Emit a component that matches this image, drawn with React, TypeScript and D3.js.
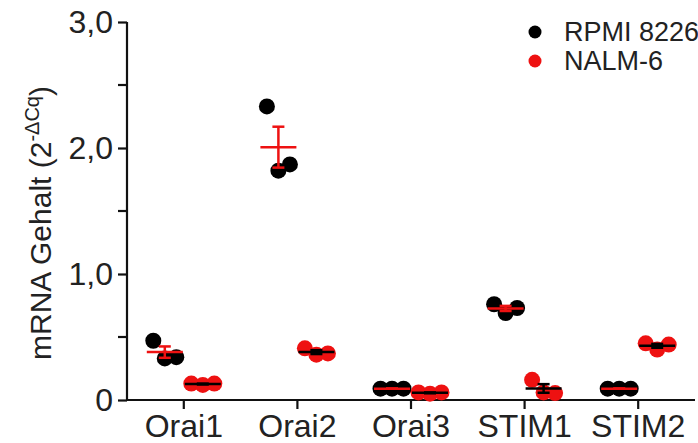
import { useEffect, useRef } from "react";
import * as d3 from "d3";

const categories = ["Orai1", "Orai2", "Orai3", "STIM1", "STIM2"];
const seriesNames = ["RPMI 8226", "NALM-6"];
// three replicates per category, left-to-right as plotted
const rpmiValues = [
  [0.47, 0.33, 0.34],
  [2.33, 1.82, 1.87],
  [0.09, 0.09, 0.09],
  [0.76, 0.69, 0.73],
  [0.09, 0.09, 0.09],
];
const nalmValues = [
  [0.13, 0.12, 0.13],
  [0.41, 0.36, 0.37],
  [0.06, 0.05, 0.06],
  [0.16, 0.06, 0.055],
  [0.45, 0.4, 0.44],
];
const yTicks = [0, 1, 2, 3];
const yMinorTicks = [0.5, 1.5, 2.5];

export default function App() {
  const ref = useRef<SVGSVGElement>(null);

  useEffect(() => {
    const width = 698;
    const height = 443;
    const margin = { top: 22, right: 3, bottom: 43, left: 127 };
    const red = "#ee1111";
    const font = "'Liberation Sans', Arial, sans-serif";

    const svg = d3.select(ref.current);
    svg.selectAll("*").remove();
    svg.style("font-family", font);

    const x = d3.scaleBand().domain(categories).range([margin.left, width - margin.right]).padding(0);
    const y = d3.scaleLinear().domain([0, 3]).range([height - margin.bottom, margin.top]);

    // axes
    const yAxis = svg.append("g")
      .attr("transform", `translate(${margin.left},0)`)
      .call(d3.axisLeft(y).tickValues(yTicks).tickSize(9).tickPadding(5)
        .tickFormat(d => (d === 0 ? "0" : d3.format(".1f")(d as number).replace(".", ","))))
      .call(g => g.select(".domain").attr("d", `M0,${y(3)}V${y(0)}`));
    yAxis.selectAll(".tick text").style("font-size", "32px").attr("fill", "#222");
    svg.append("g").attr("transform", `translate(${margin.left},0)`)
      .selectAll("line").data(yMinorTicks).enter().append("line")
      .attr("x1", -9).attr("x2", 0).attr("y1", d => y(d)).attr("y2", d => y(d));

    const xAxis = svg.append("g")
      .attr("transform", `translate(0,${y(0)})`)
      .call(d3.axisBottom(x).tickSize(9).tickPadding(5))
      .call(g => g.select(".domain").attr("d", `M${margin.left},0H${width - margin.right}`));
    xAxis.selectAll(".tick text").style("font-size", "32px").attr("fill", "#222");

    svg.selectAll(".domain, .tick line, line").attr("stroke", "#111").attr("stroke-width", 2.2);

    // y label
    const label = svg.append("text")
      .attr("transform", `translate(51,223) rotate(-90)`)
      .attr("text-anchor", "middle")
      .style("font-size", "30px")
      .attr("fill", "#222");
    label.append("tspan").text("mRNA Gehalt (2");
    label.append("tspan").attr("dy", -12).style("font-size", "20px").text("-ΔCq");
    label.append("tspan").attr("dy", 12).text(")");

    // points + mean ± SEM
    const groups = [
      { values: rpmiValues, color: "#000", lineColor: red, offset: -19 },
      { values: nalmValues, color: red, lineColor: "#000", offset: 19 },
    ];
    const spread = 11.5;
    const r = 8;
    groups.forEach(gr => {
      const gEl = svg.append("g");
      categories.forEach((c, ci) => {
        const vals = gr.values[ci];
        const cx = (x(c) as number) + x.bandwidth() / 2 + gr.offset;
        gEl.selectAll(null).data(vals).enter().append("circle")
          .attr("cx", (_d, i) => cx + (i - 1) * spread)
          .attr("cy", d => y(d))
          .attr("r", r)
          .attr("fill", gr.color);
      });
    });
    groups.forEach(gr => {
      const gEl = svg.append("g").attr("stroke", gr.lineColor).attr("stroke-width", 2.5);
      categories.forEach((c, ci) => {
        const vals = gr.values[ci];
        const cx = (x(c) as number) + x.bandwidth() / 2 + gr.offset;
        const m = d3.mean(vals) as number;
        const sem = (d3.deviation(vals) as number) / Math.sqrt(vals.length);
        gEl.append("line").attr("x1", cx - 18).attr("x2", cx + 18).attr("y1", y(m)).attr("y2", y(m));
        gEl.append("line").attr("x1", cx).attr("x2", cx).attr("y1", y(m + sem)).attr("y2", y(m - sem));
        [m + sem, m - sem].forEach(v => {
          gEl.append("line").attr("x1", cx - 6).attr("x2", cx + 6).attr("y1", y(v)).attr("y2", y(v));
        });
      });
    });

    // legend
    const legend = svg.append("g").attr("transform", "translate(535,32)");
    seriesNames.forEach((name, i) => {
      const row = legend.append("g").attr("transform", `translate(0,${i * 29})`);
      row.append("circle").attr("r", 6.5).attr("fill", i === 0 ? "#000" : red);
      row.append("text").attr("x", 29).attr("dy", "0.35em")
        .style("font-size", "27px").attr("fill", "#222").text(name);
    });
  }, []);

  return (
    <svg ref={ref} width={698} height={443}
      style={{ position: "absolute", left: 0, top: 0, background: "#fff" }} />
  );
}
